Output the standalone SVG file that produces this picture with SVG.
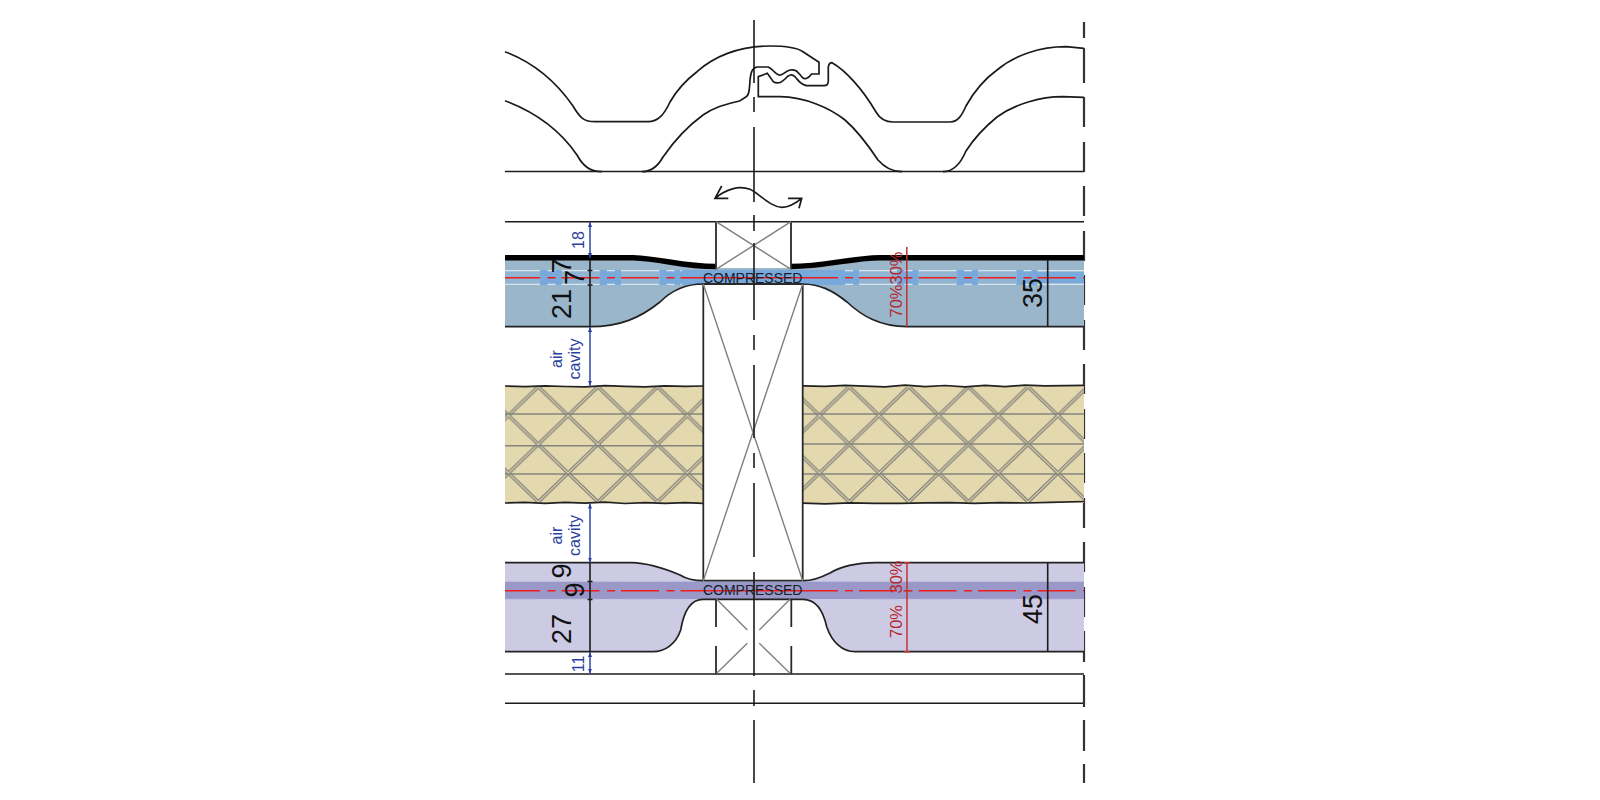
<svg xmlns="http://www.w3.org/2000/svg" width="1600" height="800" viewBox="0 0 1600 800">
<style>
text{font-family:"Liberation Sans",Arial,sans-serif}
.ln{fill:none;stroke:#1c1c1c;stroke-width:1.6}
.rt{fill:none;stroke:#333;stroke-width:2.2}
.tile{fill:none;stroke:#1a1a1a;stroke-width:1.7}
.cross{fill:none;stroke:#808080;stroke-width:1.4}
.post{fill:none;stroke:#2a2a2a;stroke-width:1.8}
.num{font-size:27px;fill:#111;text-anchor:middle}
.blue{font-size:16px;fill:#2b3f9f;text-anchor:middle}
.bl{fill:none;stroke:#2b4aa8;stroke-width:1.5}
.red{font-size:16.5px;fill:#b5272d;text-anchor:middle}
.rl{fill:none;stroke:#c2332f;stroke-width:1.5}
.cl{fill:none;stroke:#f01c1c;stroke-width:1.4}
.dash{stroke-dasharray:38 7.5 8 6}
.lft{stroke-dashoffset:3}
.wd{fill:none;stroke:#dce5ea;stroke-width:1.2}
.wp{fill:none;stroke:#c0bfdc;stroke-width:1}
.comp{font-size:14px;fill:#14202c;text-anchor:middle}
.ins{fill:#e4d8ae}
.edge{fill:none;stroke:#222;stroke-width:1.7}
</style>
<defs>
<marker id="ab" markerWidth="6" markerHeight="6" refX="5" refY="3" orient="auto-start-reverse" markerUnits="userSpaceOnUse"><path d="M0 1L5 3L0 5Z" fill="#2b3f9f"/></marker>
<g id="lat">
<path d="M0 0L29.8 28.8L59.6 0M0 57.6L29.8 28.8L59.6 57.6" fill="none" stroke="#7f7f7a" stroke-width="3.6"/>
<path d="M0 0L29.8 28.8L59.6 0M0 57.6L29.8 28.8L59.6 57.6" fill="none" stroke="#e4d8ae" stroke-width="1.1"/>
</g>
<pattern id="latL" patternUnits="userSpaceOnUse" x="538.3" y="386.7" width="59.6" height="57.6"><use href="#lat"/></pattern>
<pattern id="latR" patternUnits="userSpaceOnUse" x="849.3" y="386.7" width="59.6" height="57.6"><use href="#lat"/></pattern>
</defs>
<rect width="1600" height="800" fill="#fff"/>

<g id="roof-tiles">
<path class="tile" d="M505 51.7C535 63 557 83 573 106C580 118 584 121.7 595 121.7H648C658 121.7 664 115 670 102C678 88 686 80 697 71.7C713 57 738 46 770 46C785 46 796 47 803 51.7L819 62.3V74H811.7C808 79 804 80 801.7 76.7C797 71 795 69 790 70C785 71 783 76 779 75C775 74 772 68 768 67H757C752 68 751 72 750 80C749.5 90 749 96 745 97.5L740 100.7C728 104 716 106 703 115C688 126 674 141 663 157C658 166 652 171.7 642 171.7"/>
<path class="tile" d="M601.7 171.7C590 171.7 583 166 577 155C560 130 535 112 505 100.7"/>
<path class="tile" d="M902 171.7C892 171.7 885 168 878 160C870 148 860 133 845 120C830 108 805 97 780 96.7H758.300V76.700L767.300 73.300L773.300 81.700C777 84 781 83 785 79C789 74 792 74 795 76.700C798 80 800 84.500 806.700 85.700H824Q828.300 85.700 828.300 81V67Q829 62.700 832 62.700C845 70 862 88 876 112C880 119 885 122 893 122H950C958 122 962 115 966 106C976 88 986 78 997 70C1015 55 1040 46.700 1066 46.700L1084 48.300"/>
<path class="tile" d="M943 171.700C953 171.700 960 165 966 151C975 137 986 126 997 117C1015 104 1040 96.700 1063 96.700L1084 97.300"/>
</g>

<g id="battens">
<path class="ln" d="M505 171.500H1084M505 221.700H1084M505 674H1084M505 703.300H1084"/>
</g>

<g id="grid-right">
<path class="rt" d="M1084 22V38M1084 48V83M1084 97V127M1084 142V172M1084 186V216M1084 231V261M1084 275V305M1084 320V350M1084 364V394M1084 409V439M1084 453V483M1084 498V528M1084 542V572M1084 587V617M1084 631V662M1084 675V707M1084 720V751M1084 764V783"/>
</g>

<g id="move-arrow">
<path class="tile" d="M715 198.300C725 190 738 185 750 189.300C760 194 770 207 782 207.300C790 207 796 203 801.700 198.300M721.700 186L715 198.300H728.300M788 198.300H801.700L799 208.300"/>
</g>

<g id="upper-layer">
<path fill="#9ab6cb" d="M505 258H633C665 259 680 268 716 268H791C825 268 850 258 880 258H1084V326.700H907C880 326.700 862 316 847 302C832 290 820 284.300 803 284.300H703C688 284 672 290 660 302C640 318 620 326.700 590 326.700H505Z"/>
<rect x="505" y="270" width="579" height="15" fill="#90b4d2"/>
<path fill="#78a9da" d="M540 270h22v15h-22zM600 270h21v15h-21zM660 270h184v15h-184zM838 270h21v15h-21zM897 270h21v15h-21zM957 270h21v15h-21zM1017 270h20.500v15h-20.500zM1037.500 272h46.500v11h-46.500z"/>
<path class="wd dash lft" d="M505 270.700H682M505 284.300H682"/>
<path class="wd" d="M845 270.700H853M845 284.300H853"/>
<path class="wd dash" d="M859 270.700H1037"/>
<path class="wd dash" d="M859 284.300H1037"/>
<path class="wd" d="M1037.500 270.700H1084M1037.500 284.300H1084"/>
<path class="cl dash lft" d="M505 277.700H682"/>
<path class="cl" d="M682 277.700H838"/>
<path class="cl" d="M845 277.700H853"/>
<path class="cl dash" d="M859 277.700H1084"/>
<path class="edge" d="M505 326.700H590C620 326.700 640 318 660 302C672 290 688 284 703 284H803C820 284.300 832 290 847 302C862 316 880 326.700 907 326.700H1084"/>
<path fill="none" stroke="#000" stroke-width="5.500" d="M505 257.700H633C665 259 680 266.500 716 266.500M791 266.500C825 266.500 850 258 880 257.700H1084"/>
</g>

<g id="insulation-left">
<path class="ins" d="M505 386H703V503H505Z"/>
<path fill="url(#latL)" d="M505 387H703V502H505Z"/>
<path fill="none" stroke="#85857f" stroke-width="1.500" d="M505 414H703M505 445.700H703M505 474H703"/>
<path class="edge" d="M505 386L525 386.700L545 385.800L565 386.500L585 386.900L605 385.700L625 386.400L645 386.800L665 385.800L685 386.400L703 386M505 503L525 502.300L545 503.400L565 502.400L585 503.200L605 502.200L625 503.500L645 502.600L665 503.300L685 502.600L703 503.300"/>
</g>
<g id="insulation-right">
<path class="ins" d="M803 386H1084V503H803Z"/>
<path fill="url(#latR)" d="M803 387H1084V502H803Z"/>
<path fill="none" stroke="#85857f" stroke-width="1.500" d="M803 414H1084M803 444H1084M803 474H1084"/>
<path class="edge" d="M803 385.800L825 386.300L845 385.400L865 386.200L885 386.800L905 385.200L925 386.600L945 385.500L965 386.800L985 385.400L1005 386.600L1025 385.200L1045 385.800L1065 385.600L1084 385.300M803 503.200L825 503.800L850 502.800L875 503.300L900 503.400L925 502.800L950 502.600L975 503.300L1000 502.700L1025 503L1050 502.300L1084 501.500"/>
</g>

<g id="lower-layer">
<path fill="#cdcbe4" d="M505 562.700H631.700C650 563 668 570 680 575C688 580 695 580.700 703 580.700H803C812 581 822 577 830 573C840 567 855 563 875 562.700H1084V651.700H855C842 651.700 832 642 826.700 626.700C823 610 815 599.300 803 599.300H703C692 599.300 684 610 680.700 630C676 644 665 651.700 653 651.700H505Z"/>
<rect x="505" y="581.700" width="579" height="17.300" fill="#9a98c8"/>
<path class="wp dash lft" d="M505 581.500H682M505 599.300H682"/>
<path class="wp dash" d="M859 581.500H1084"/>
<path class="wp dash" d="M859 599.300H1084"/>
<path class="cl dash lft" d="M505 590.700H682"/>
<path class="cl" d="M682 590.700H838"/>
<path class="cl" d="M845 590.700H853"/>
<path class="cl dash" d="M859 590.700H1084"/>
<path class="edge" d="M505 562.700H631.700C650 563 668 570 680 575C688 580 695 580.700 703 580.700M803 580.700C812 581 822 577 830 573C840 567 855 563 875 562.700H1084M505 651.700H653C665 651.700 676 644 680.700 630C684 610 692 599.300 703 599.300H803C815 599.300 823 610 826.700 626.700C832 642 842 651.700 855 651.700H1084"/>
</g>

<g id="stud">
<path class="post" d="M703.300 284V580.700M802.700 284V580.700M703.300 284H802.700M703.300 580.700H802.700"/>
<path class="cross" d="M703.300 284L802.700 580.700M802.700 284L703.300 580.700"/>
</g>
<g id="upper-block">
<path class="post" d="M716 221.700V269.300M791 221.700V269.300"/>
<path class="cross" d="M716 221.700L791 269.300M791 221.700L716 269.300"/>
</g>
<g id="lower-block">
<path class="post" d="M716 599.300V627M716 646V674M791.300 599.300V627M791.300 646V674"/>
<path class="cross" d="M716.700 599.300L747.300 630M759.300 630L790 599.300M716.700 673.300L747.300 643.300M759.300 643.300L790 673.300"/>
</g>

<g id="connectors">
<path class="ln" d="M754 20V83M754 97V112M754 127V202M754 215V231M754 243V320M754 335V350M754 365V438M754 453V468M754 483V557M754 572V676M754 690V706M754 720V783"/>
<path class="ln" d="M590 260V326.700M590 563V651.700M1047.700 260V326.700M1047.700 563V651.700"/>
<path class="ln" d="M587.500 270.500H592.500M587.500 285H592.500M587.500 581.500H592.500M587.500 599.500H592.500"/>
<path class="bl" marker-start="url(#ab)" marker-end="url(#ab)" d="M590 222V258"/>
<path class="bl" marker-start="url(#ab)" marker-end="url(#ab)" d="M590 327V385.700"/>
<path class="bl" marker-start="url(#ab)" marker-end="url(#ab)" d="M590 503.500V562.500"/>
<path class="bl" marker-start="url(#ab)" marker-end="url(#ab)" d="M590 652V673.700"/>
<path class="rl" d="M906.800 247V326.700M907 562.700V651.700M903.500 277.700H910M903.500 590.700H910M904 562.700H910M904 651.700H910"/>
</g>

<g id="labels">
<text class="comp" x="752.700" y="282.700">COMPRESSED</text>
<text class="comp" x="752.700" y="595">COMPRESSED</text>
<text class="num" transform="translate(571 304) rotate(-90)">21</text>
<text class="num" transform="translate(571 266) rotate(-90)">7</text>
<text class="num" transform="translate(584 277.500) rotate(-90)">7</text>
<text class="num" transform="translate(571 571) rotate(-90)">9</text>
<text class="num" transform="translate(584 590) rotate(-90)">9</text>
<text class="num" transform="translate(571 629) rotate(-90)">27</text>
<text class="num" transform="translate(1042.300 293) rotate(-90)">35</text>
<text class="num" transform="translate(1042.300 609) rotate(-90)">45</text>
<text class="blue" transform="translate(584 240) rotate(-90)">18</text>
<text class="blue" transform="translate(584 664) rotate(-90)">11</text>
<text class="blue" transform="translate(561.700 359) rotate(-90)">air</text>
<text class="blue" transform="translate(580 359) rotate(-90)">cavity</text>
<text class="blue" transform="translate(561.700 535.500) rotate(-90)">air</text>
<text class="blue" transform="translate(580 535.500) rotate(-90)">cavity</text>
<text class="red" transform="translate(901.700 268) rotate(-90)">30%</text>
<text class="red" transform="translate(901.700 301) rotate(-90)">70%</text>
<text class="red" transform="translate(901.700 577) rotate(-90)">30%</text>
<text class="red" transform="translate(901.700 621.500) rotate(-90)">70%</text>
</g>
</svg>
